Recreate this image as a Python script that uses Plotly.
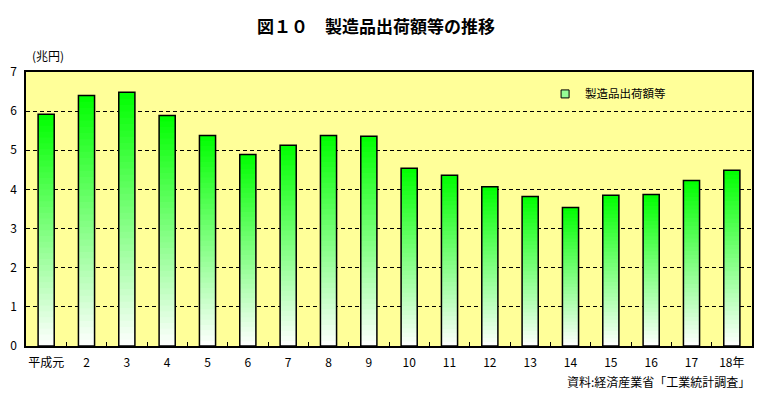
import plotly.graph_objects as go

categories = ["平成元", "2", "3", "4", "5", "6", "7", "8", "9", "10",
              "11", "12", "13", "14", "15", "16", "17", "18年"]
values = [5.92, 6.40, 6.48, 5.89, 5.38, 4.89, 5.13, 5.38, 5.36, 4.54,
          4.36, 4.07, 3.82, 3.54, 3.85, 3.87, 4.23, 4.49]
series_name = "製造品出荷額等"
title_text = "図１０　製造品出荷額等の推移"
unit_text = "(兆円)"
source_text = "資料:経済産業省「工業統計調査」"
y_ticks = [0, 1, 2, 3, 4, 5, 6, 7]

FONT = "Noto Sans CJK JP, sans-serif"
N = 40
BAR_W = 0.4

fig = go.Figure()

def mix(t):
    # t=0 -> pure green (top), t=1 -> white (bottom)
    r = int(round(255 * t))
    b = int(round(255 * t))
    return f"rgb({r},255,{b})"

for k in range(N):
    frac = 1 - k / N
    t = (k + 0.5) / N
    fig.add_trace(go.Bar(
        x=categories, y=[v * frac for v in values], width=BAR_W,
        marker=dict(color=mix(t), line=dict(width=0)),
        showlegend=False, hoverinfo="skip"))

# outline
fig.add_trace(go.Bar(
    x=categories, y=values, width=BAR_W, name=series_name,
    marker=dict(color="rgba(0,0,0,0)", line=dict(color="black", width=1.5)),
    showlegend=False))

# legend entry
fig.add_trace(go.Scatter(
    x=[categories[0]], y=[None], name=series_name, mode="markers",
    marker=dict(symbol="square", size=8, color="rgb(150,255,150)",
                line=dict(color="black", width=1)),
    showlegend=True))

fig.update_layout(
    width=762, height=392,
    barmode="overlay",
    paper_bgcolor="white", plot_bgcolor="#FFFF99",
    margin=dict(l=18, r=18, t=64, b=54),
    font=dict(family=FONT, size=11, color="black"),
    title=dict(text=title_text, x=0.483, xanchor="center", y=0.952, yanchor="middle",
               font=dict(family=FONT, size=17, color="black", weight="bold")),
    showlegend=True,
    legend=dict(x=0.715, y=0.92, xanchor="left", yanchor="middle",
                bgcolor="rgba(0,0,0,0)", font=dict(size=11.5, family=FONT),
                itemwidth=30),
    xaxis=dict(type="category", range=[-0.5, len(categories) - 0.5],
               showline=True, linecolor="black", linewidth=1.5,
               mirror=True, ticks="inside", ticklen=4, tickcolor="black",
               tickson="boundaries", showgrid=False, tickangle=0, automargin=False,
               tickfont=dict(size=12, family=FONT), ticklabelstandoff=5),
    yaxis=dict(range=[0, 7], tickvals=y_ticks, showline=True, linecolor="black",
               linewidth=1.5, mirror=True, ticks="", showgrid=True,
               gridcolor="black", gridwidth=1, griddash="4px,3px", automargin=False,
               zeroline=False, tickfont=dict(size=12, family=FONT),
               ticklabelstandoff=5),
    annotations=[
        dict(text=unit_text, xref="paper", yref="paper", x=0.0055, y=1.062,
             xanchor="left", yanchor="middle", showarrow=False,
             font=dict(size=12, family=FONT)),
        dict(text=source_text, xref="paper", yref="paper", x=1.0, y=-0.131,
             xanchor="right", yanchor="middle", showarrow=False,
             font=dict(size=12, family=FONT)),
    ],
)

fig.write_html("out.html")
